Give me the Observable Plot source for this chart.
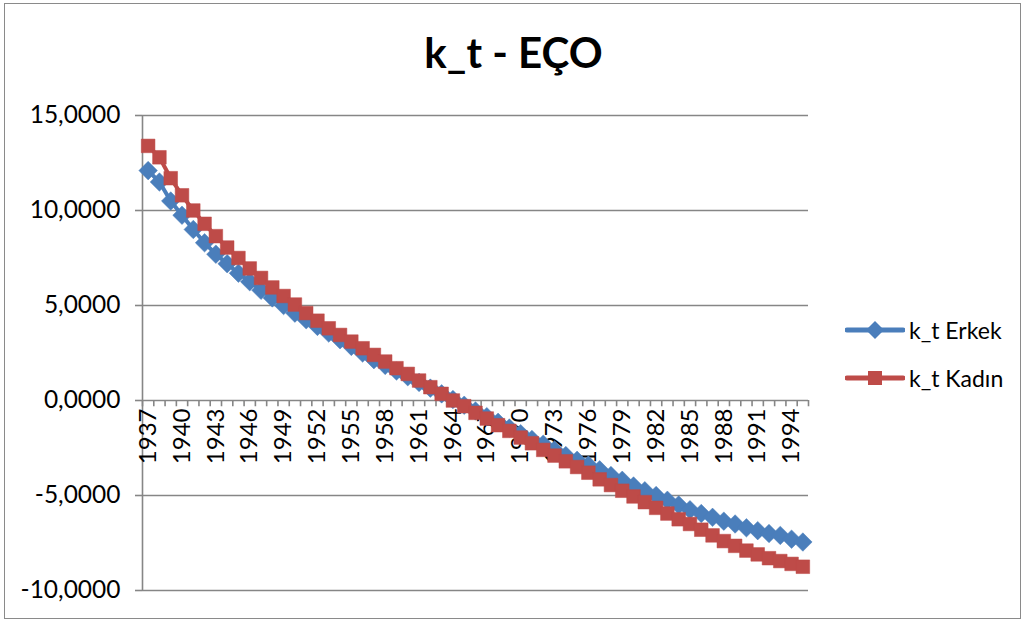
<!DOCTYPE html>
<html>
<head>
<meta charset="utf-8">
<script src="https://cdn.jsdelivr.net/npm/d3@7"></script>
<script src="https://cdn.jsdelivr.net/npm/@observablehq/plot@0.6"></script>
<style>
  html, body { margin: 0; padding: 0; background: #fff; }
  #chart { position: relative; width: 1027px; height: 624px; font-family: Lato, "Open Sans", sans-serif; }
  #frame { position: absolute; left: 4px; top: 3px; width: 1017px; height: 616px; border: 1.5px solid #8a8a8a; box-sizing: border-box; pointer-events: none; }
  #title { position: absolute; left: 0; width: 1027px; top: 27px; text-align: center; font-weight: bold; font-size: 42px; color: #000; }
  #plot { position: absolute; left: 0; top: 0; }
  .legend { position: absolute; left: 845px; font-size: 23px; color: #000; display: flex; align-items: center; }
  .legend svg { margin-right: 4px; }
</style>
</head>
<body>
<div id="chart">
  <div id="plot"></div>
  <div id="title">k_t - EÇO</div>
  <div class="legend" style="top:314px"><svg width="60" height="32" id="sw1"></svg><span>k_t Erkek</span></div>
  <div class="legend" style="top:362px"><svg width="60" height="32" id="sw2"></svg><span>k_t Kadın</span></div>
  <div id="frame"></div>
</div>
<script>
// Years (categories)
const years = [1937, 1938, 1939, 1940, 1941, 1942, 1943, 1944, 1945, 1946,
  1947, 1948, 1949, 1950, 1951, 1952, 1953, 1954, 1955, 1956,
  1957, 1958, 1959, 1960, 1961, 1962, 1963, 1964, 1965, 1966,
  1967, 1968, 1969, 1970, 1971, 1972, 1973, 1974, 1975, 1976,
  1977, 1978, 1979, 1980, 1981, 1982, 1983, 1984, 1985, 1986,
  1987, 1988, 1989, 1990, 1991, 1992, 1993, 1994, 1995];

// k_t Erkek
const erkek = [12.1, 11.5, 10.5, 9.75, 9.0, 8.3, 7.7, 7.2, 6.7, 6.25,
  5.8, 5.4, 5.0, 4.6, 4.25, 3.9, 3.55, 3.2, 2.85, 2.5,
  2.15, 1.85, 1.55, 1.25, 0.95, 0.65, 0.35, 0.05, -0.25, -0.55,
  -0.85, -1.15, -1.45, -1.75, -2.05, -2.3, -2.6, -2.9, -3.15, -3.4,
  -3.65, -3.95, -4.2, -4.5, -4.75, -5.0, -5.25, -5.5, -5.75, -5.95,
  -6.15, -6.35, -6.5, -6.7, -6.85, -7.0, -7.1, -7.3, -7.45];

// k_t Kadın
const kadin = [13.4, 12.8, 11.7, 10.8, 10.0, 9.3, 8.65, 8.05, 7.5, 6.95,
  6.45, 5.95, 5.5, 5.05, 4.6, 4.2, 3.8, 3.45, 3.1, 2.75,
  2.4, 2.05, 1.7, 1.4, 1.05, 0.7, 0.35, 0.0, -0.3, -0.65,
  -0.95, -1.3, -1.6, -1.95, -2.25, -2.6, -2.9, -3.2, -3.5, -3.8,
  -4.15, -4.45, -4.75, -5.05, -5.35, -5.65, -5.95, -6.25, -6.5, -6.8,
  -7.1, -7.4, -7.65, -7.9, -8.1, -8.3, -8.45, -8.6, -8.75];

// Category labels shown on the axis
const labelYears = [1937, 1940, 1943, 1946, 1949, 1952, 1955, 1958, 1961, 1964,
  1967, 1970, 1973, 1976, 1979, 1982, 1985, 1988, 1991, 1994];

const yTicks = [-10, -5, 0, 5, 10, 15];

const blue = "#4a7ebb";
const red = "#be4b48";
const gridColor = "#868686";

const fmt = d => (d < 0 ? "-" : "") + Math.abs(d).toFixed(4).replace(".", ",");

// Rotated-square marker
const diamond = {
  draw(context, size) {
    const h = Math.sqrt(size / 2);
    context.moveTo(0, -h);
    context.lineTo(h, 0);
    context.lineTo(0, h);
    context.lineTo(-h, 0);
    context.closePath();
  }
};

const rowsE = years.map((year, i) => ({year, value: erkek[i]}));
const rowsK = years.map((year, i) => ({year, value: kadin[i]}));
// category boundaries for tick marks
const bounds = years.map(y => y - 0.5).concat([years[years.length - 1] + 0.5]);

const chart = Plot.plot({
  width: 1027,
  height: 624,
  marginLeft: 142,
  marginRight: 219,
  marginTop: 115,
  marginBottom: 34,
  style: {fontFamily: "Lato, 'Open Sans', sans-serif", fontSize: "24px", color: "#000", background: "transparent"},
  x: {domain: [years[0] - 0.5, years[years.length - 1] + 0.5], axis: null},
  y: {domain: [-10, 15], axis: null},
  marks: [
    Plot.ruleY(yTicks, {stroke: gridColor, strokeWidth: 1.6}),
    Plot.ruleX([years[0] - 0.5], {stroke: gridColor, strokeWidth: 1.6}),
    Plot.axisY({ticks: yTicks, tickFormat: fmt, label: null, tickSize: 7, tickPadding: 15, stroke: gridColor, strokeWidth: 1.6, fontSize: 24.5, color: "#000"}),
    Plot.ruleX(bounds, {x: d => d, y1: 0, y2: -0.33, stroke: gridColor, strokeWidth: 1.6}),
    Plot.text(labelYears, {x: d => d, y: 0, text: d => String(d), rotate: -90, textAnchor: "end", dy: 8, fontSize: 24, fill: "#000"}),
    Plot.line(rowsE, {x: "year", y: "value", stroke: blue, strokeWidth: 4}),
    Plot.dot(rowsE, {x: "year", y: "value", symbol: diamond, r: 7.4, fill: blue, stroke: blue, strokeWidth: 0.5}),
    Plot.line(rowsK, {x: "year", y: "value", stroke: red, strokeWidth: 4}),
    Plot.dot(rowsK, {x: "year", y: "value", symbol: "square", r: 7.7, fill: red, stroke: red, strokeWidth: 0.5})
  ]
});
document.getElementById("plot").appendChild(chart);

// Legend swatches
function swatch(id, color, shape) {
  const svg = d3.select("#" + id);
  svg.append("line").attr("x1", 2).attr("x2", 58).attr("y1", 16).attr("y2", 16)
    .attr("stroke", color).attr("stroke-width", 5).attr("stroke-linecap", "round");
  if (shape === "diamond") {
    svg.append("path").attr("d", "M30,7L39,16L30,25L21,16Z").attr("fill", color);
  } else {
    svg.append("rect").attr("x", 23).attr("y", 9).attr("width", 14).attr("height", 14).attr("fill", color);
  }
}
swatch("sw1", blue, "diamond");
swatch("sw2", red, "square");
</script>
</body>
</html>
